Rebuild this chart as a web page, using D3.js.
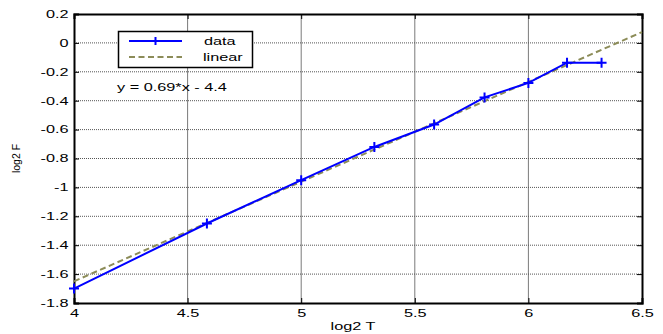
<!DOCTYPE html>
<html>
<head>
<meta charset="utf-8">
<script src="https://cdn.jsdelivr.net/npm/d3@7"></script>
<style>
  body { margin: 0; background: #fff; }
  svg { font-family: "Liberation Sans", Arial, sans-serif; }
</style>
</head>
<body>
<svg id="chart" width="663" height="334"></svg>
<script>
// measured values, log2 scale
const logT = [4, 4.585, 5, 5.322, 5.585, 5.807, 6, 6.17, 6.322]
const logF = [-1.70, -1.25, -0.95, -0.72, -0.565, -0.377, -0.277, -0.137, -0.137]
const fitSlope = 0.69
const fitIntercept = -4.41
const xTicks = [4, 4.5, 5, 5.5, 6, 6.5]
const yTicks = [0.2, 0, -0.2, -0.4, -0.6, -0.8, -1, -1.2, -1.4, -1.6, -1.8]
const legendLabels = ['data', 'linear']
const eqText = 'y = 0.69*x - 4.4'

const svg = d3.select('#chart')
const plotLeft = 74, plotRight = 642, plotTop = 14, plotBottom = 303
const fs = 10.5, stretch = 1.55   // text in the picture is drawn wide

const x = d3.scaleLinear().domain([4, 6.5]).range([plotLeft, plotRight])
const y = d3.scaleLinear().domain([-1.8, 0.2]).range([plotBottom, plotTop])

// grid
svg.append('g')
  .selectAll('line')
  .data(xTicks.slice(1, -1))
  .enter()
  .append('line')
  .attr('x1', d => x(d)).attr('x2', d => x(d))
  .attr('y1', plotTop).attr('y2', plotBottom)
  .attr('stroke', '#7a7a7a')
  .attr('stroke-width', 1)

svg.append('g')
  .selectAll('line')
  .data(yTicks.slice(1, -1))
  .enter()
  .append('line')
  .attr('x1', plotLeft).attr('x2', plotRight)
  .attr('y1', d => y(d)).attr('y2', d => y(d))
  .attr('stroke', '#555')
  .attr('stroke-width', 1)
  .attr('stroke-dasharray', '1,1')

// axes
const fmt = d => String(+d.toFixed(1))
svg.append('g')
  .attr('class', 'xaxis')
  .attr('transform', `translate(0,${plotBottom})`)
  .call(d3.axisBottom(x).tickValues(xTicks).tickSize(-5).tickPadding(7).tickFormat(fmt))
svg.append('g')
  .attr('class', 'yaxis')
  .attr('transform', `translate(${plotLeft},0)`)
  .call(d3.axisLeft(y).tickValues(yTicks).tickSize(-5).tickPadding(7).tickFormat(fmt))
svg.append('g')
  .attr('transform', `translate(0,${plotTop})`)
  .call(d3.axisTop(x).tickValues(xTicks).tickSize(-5).tickFormat(''))
svg.append('g')
  .attr('transform', `translate(${plotRight},0)`)
  .call(d3.axisRight(y).tickValues(yTicks).tickSize(-5).tickFormat(''))

svg.selectAll('.domain').attr('stroke', '#000').attr('stroke-width', 2)
svg.selectAll('.tick line').attr('stroke', '#000')
svg.selectAll('.tick text').attr('font-size', fs).attr('fill', '#000')
  .attr('font-family', '"Liberation Sans", Arial, sans-serif')
svg.selectAll('.xaxis .tick text').attr('transform', `scale(${stretch},1)`)
svg.selectAll('.yaxis .tick text').attr('x', 0)
  .attr('transform', `translate(-5.5,0) scale(${stretch},1)`)

// linear fit
const fitLine = d3.line().x(d => x(d)).y(d => y(fitSlope * d + fitIntercept))
svg.append('path')
  .datum([4, 6.5])
  .attr('d', fitLine)
  .attr('fill', 'none')
  .attr('stroke', '#8c8c58')
  .attr('stroke-width', 2)
  .attr('stroke-dasharray', '6,3.5')

// data
const pts = logT.map((t, i) => [t, logF[i]])
svg.append('path')
  .datum(pts)
  .attr('d', d3.line().x(d => x(d[0])).y(d => y(d[1])))
  .attr('fill', 'none')
  .attr('stroke', '#0000ff')
  .attr('stroke-width', 2)

svg.append('g')
  .selectAll('path')
  .data(pts)
  .enter()
  .append('path')
  .attr('d', d => `M${x(d[0]) - 5},${y(d[1])}h10M${x(d[0])},${y(d[1]) - 5}v10`)
  .attr('stroke', '#0000ff')
  .attr('stroke-width', 2)

function wideText(px, py, str) {
  return svg.append('text')
    .attr('transform', `translate(${px},${py}) scale(${stretch},1)`)
    .attr('font-size', fs)
    .text(str)
}

// legend
const lg = svg.append('g')
lg.append('rect')
  .attr('x', 118.5).attr('y', 31.5)
  .attr('width', 134).attr('height', 36)
  .attr('fill', '#fff')
  .attr('stroke', '#000')
  .attr('stroke-width', 1.5)
lg.append('line')
  .attr('x1', 129).attr('x2', 182).attr('y1', 41).attr('y2', 41)
  .attr('stroke', '#0000ff').attr('stroke-width', 2)
lg.append('path')
  .attr('d', 'M155.5,37v8')
  .attr('stroke', '#0000ff').attr('stroke-width', 2)
lg.append('line')
  .attr('x1', 129).attr('x2', 182).attr('y1', 57).attr('y2', 57)
  .attr('stroke', '#8c8c58').attr('stroke-width', 2)
  .attr('stroke-dasharray', '6,3.5')
legendLabels.forEach((d, i) => wideText(i ? 203 : 204, 45 + i * 16, d))

wideText(117, 91, eqText)

// axis labels
wideText(353, 330, 'log2 T').attr('text-anchor', 'middle')
svg.append('text')
  .attr('transform', 'translate(20,158.5) rotate(-90)')
  .attr('text-anchor', 'middle')
  .attr('font-size', fs)
  .text('log2 F')
</script>
</body>
</html>
